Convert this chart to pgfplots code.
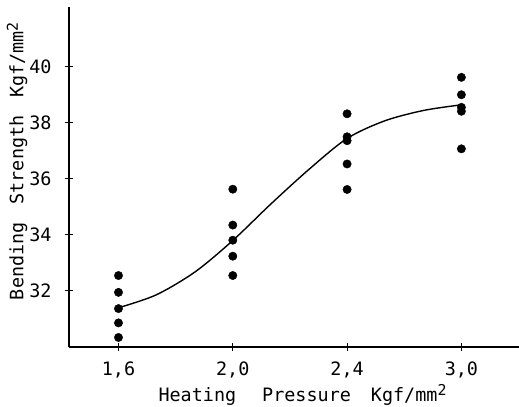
\documentclass[border=0pt]{standalone}
\usepackage{pgfplots}
\pgfplotsset{compat=1.18}
\usepackage{fontspec}
\setmainfont{DejaVu Sans Mono}
\newcommand{\sq}{\raisebox{0.55ex}{\fontsize{15}{15}\selectfont 2}}
\begin{document}
\begin{tikzpicture}
\begin{axis}[
  at={(69bp,60bp)}, anchor=south west,
  scale only axis, width=450bp, height=340bp,
  xmin=-0.433, xmax=3.504, ymin=30.0, ymax=42.13,
  axis x line*=bottom, axis y line*=left,
  axis line style={line width=2.3bp, black},
  clip=false,
  xtick={0,1,2,3}, xticklabels={{1,6},{2,0},{2,4},{3,0}},
  ytick={32,34,36,38,40}, yticklabels={32,34,36,38,40},
  tick align=center, major tick length=8bp,
  tick style={line width=1bp, black},
  ticklabel style={font=\fontsize{18.5}{18.5}\selectfont},
  xticklabel style={yshift=-7bp},
  yticklabel style={xshift=-10bp},
  xlabel={Heating\hspace{26bp}Pressure\hspace{20bp}Kgf/mm\sq},
  ylabel={Bending\hspace{18bp}Strength\hspace{18bp}Kgf/mm\sq},
  label style={font=\fontsize{18.5}{18.5}\selectfont},
  xlabel style={at={(axis description cs:0.519,-0.141)}, anchor=center},
  ylabel style={at={(axis description cs:-0.1156,0.547)}, anchor=center},
]
\addplot[only marks, mark=*, mark size=4.2bp, black] coordinates {
  (0,32.55) (0,31.95) (0,31.37) (0,30.86) (0,30.34)
  (1,35.63) (1,34.35) (1,33.81) (1,33.24) (1,32.55)
  (2,38.32) (2,37.50) (2,37.36) (2,36.53) (2,35.62)
  (3,39.62) (3,39.00) (3,38.55) (3,38.41) (3,37.07)
};
\addplot[smooth, black, line width=1.4bp] coordinates {
  (0,31.40) (0.33,31.86) (0.67,32.68) (1,33.80) (1.33,35.09) (1.67,36.35)
  (2,37.44) (2.33,38.07) (2.67,38.44) (3,38.64)
};
\end{axis}
\pgfresetboundingbox
\path (0,0) rectangle (519bp,407bp);
\end{tikzpicture}
\end{document}
